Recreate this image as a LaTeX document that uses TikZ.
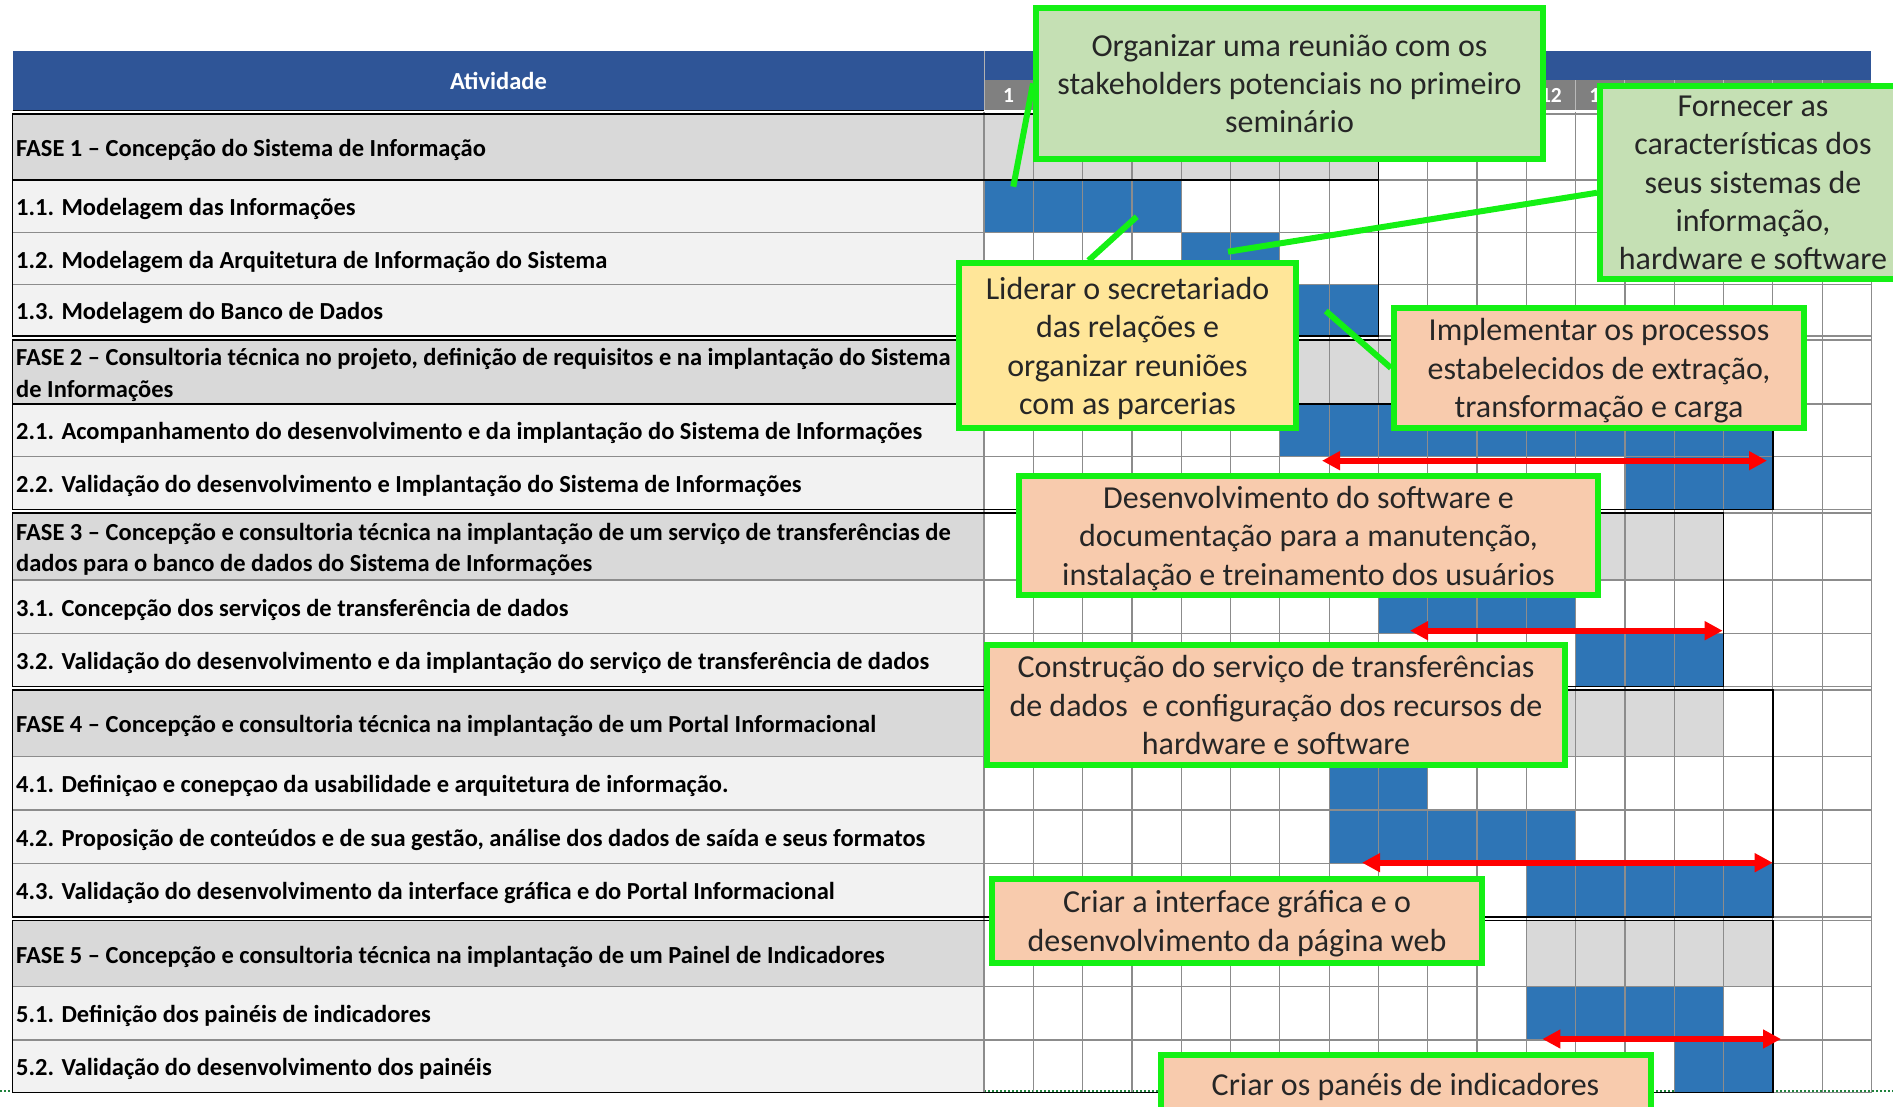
\documentclass[tikz,border=0pt]{standalone}
\usepackage{fontspec}
\setmainfont{Carlito}
\usepackage{tikz}
\usetikzlibrary{arrows.meta}

\definecolor{headblue}{RGB}{47,85,151}
\definecolor{monthgray}{RGB}{128,128,128}
\definecolor{fasegray}{RGB}{217,217,217}
\definecolor{taskgray}{RGB}{242,242,242}
\definecolor{barblue}{RGB}{46,117,182}
\definecolor{gridgray}{RGB}{140,140,140}
\definecolor{limegreen}{RGB}{20,240,20}
\definecolor{notegreen}{RGB}{197,224,180}
\definecolor{noteyellow}{RGB}{255,230,153}
\definecolor{notepeach}{RGB}{248,203,173}
\definecolor{pagegreen}{RGB}{30,130,60}

\newcommand{\colx}[1]{984+(#1)*49.3}
\newcommand{\cells}[5]{\fill[#5] ({\colx{#3-1}},#1) rectangle ({\colx{#4}},#2);}

\tikzset{
  activity/.style={anchor=west, align=left, inner sep=0pt, yshift=-3pt, font=\fontsize{24.5}{31.5}\selectfont\bfseries},
  monthlabel/.style={text=white, inner sep=0pt, font=\fontsize{21.5}{24}\selectfont\bfseries},
  note/.style={draw=limegreen, line width=6pt, align=center, inner sep=2pt, text=black!85,
    text depth=0pt, font=\fontsize{32}{38.4}\selectfont},
  pointer/.style={draw=limegreen, line width=6pt},
  spanarrow/.style={<->, draw=red, line width=6pt},
  gridline/.style={draw=gridgray, line width=1.2pt},
  blockline/.style={draw=black, line width=1.5pt},
}

\begin{document}
\begin{tikzpicture}[x=1pt, y=-1pt, >={Triangle[length=18pt,width=18pt]}]
    \useasboundingbox (0,0) rectangle (1893,1107);
    % header
    \fill[headblue] (12.7,51.5) rectangle ({\colx{18}},110);
    \fill[monthgray] ({\colx{0}},80.5) rectangle ({\colx{18}},110);
    \foreach \m in {1,...,17}
    \draw[gray!55, line width=1pt] ({\colx{\m}},80.5) -- ({\colx{\m}},110);
    \draw[gray!60, line width=1pt] ({\colx{0}},51.5) -- ({\colx{0}},110);
    \foreach \m in {1,...,18}
    \node[monthlabel] (m\m) at ({\colx{\m-0.5}},95.5) {\m};
    \node[text=white, font=\fontsize{24.5}{30}\selectfont\bfseries] (ativ) at (498.5,81) {Atividade};
    \draw[pagegreen, line width=2pt, dotted] (0,1090.5) -- (1893,1090.5);
    % activity column
    \foreach \t/\b in {180/336, 404/509.5, 580/686.5, 756.7/917, 986.7/1092.7}
    \fill[taskgray] (12.7,\t) rectangle ({\colx{0}},\b);
    \foreach \t/\b in {114/180, 340/404, 513/580, 690/756.7, 920.7/986.7}
    \fill[fasegray] (12.7,\t) rectangle ({\colx{0}},\b);
    % chart cells
    \cells{114}{180}{1}{8}{fasegray}
    \cells{180}{232.7}{1}{4}{barblue}
    \cells{232.7}{284.5}{5}{6}{barblue}
    \cells{284.5}{336}{7}{8}{barblue}
    \cells{340}{404}{7}{16}{fasegray}
    \cells{404}{456.5}{7}{16}{barblue}
    \cells{456.5}{509.5}{14}{16}{barblue}
    \cells{513}{580}{9}{15}{fasegray}
    \cells{580}{633.3}{9}{12}{barblue}
    \cells{633.3}{686.5}{13}{15}{barblue}
    \cells{690}{756.7}{8}{15}{fasegray}
    \cells{756.7}{810}{8}{9}{barblue}
    \cells{810}{863.3}{8}{12}{barblue}
    \cells{863.3}{917}{12}{16}{barblue}
    \cells{920.7}{986.7}{12}{16}{fasegray}
    \cells{986.7}{1040}{12}{15}{barblue}
    \cells{1040}{1092.7}{15}{16}{barblue}
    % grid
    \foreach \k in {0,...,18}
    \draw[gridline] ({\colx{\k}},112) -- ({\colx{\k}},1092.7);
    \draw[gridline] ({\colx{0}},114) -- ({\colx{18}},114);
    \foreach \y in {180,232.7,284.5,336,340,404,456.5,509.5,513,580,633.3,686.5,690,756.7,810,863.3,917,920.7,986.7,1040,1092.7}
    \draw[gridline] (12.7,\y) -- ({\colx{18}},\y);
    \draw[blockline] (12.7,110.5) -- ({\colx{0}},110.5);
    \draw[blockline] (12.7,114) rectangle ({\colx{8}},336);
    \draw[blockline] (12.7,180) -- ({\colx{8}},180);
    \draw[blockline] (12.7,340) rectangle ({\colx{16}},509.5);
    \draw[blockline] (12.7,404) -- ({\colx{16}},404);
    \draw[blockline] (12.7,513) rectangle ({\colx{15}},686.5);
    \draw[blockline] (12.7,690) rectangle ({\colx{16}},917);
    \draw[blockline] (12.7,920.7) rectangle ({\colx{16}},1092.7);
    % activities
    \node[activity] (f1) at (16,147) {FASE 1 – Concepção do Sistema de Informação};
    \node[activity] (a11) at (16,206.4) {1.1. Modelagem das Informações};
    \node[activity] (a12) at (16,258.6) {1.2. Modelagem da Arquitetura de Informação do Sistema};
    \node[activity] (a13) at (16,310.3) {1.3. Modelagem do Banco de Dados};
    \node[activity] (f2) at (16,372) {FASE 2 – Consultoria técnica no projeto, definição de requisitos e na implantação do Sistema\\de Informações};
    \node[activity] (a21) at (16,430.3) {2.1. Acompanhamento do desenvolvimento e da implantação do Sistema de Informações};
    \node[activity] (a22) at (16,483) {2.2. Validação do desenvolvimento e Implantação do Sistema de Informações};
    \node[activity] (f3) at (16,546.5) {FASE 3 – Concepção e consultoria técnica na implantação de um serviço de transferências de\\dados para o banco de dados do Sistema de Informações};
    \node[activity] (a31) at (16,606.7) {3.1. Concepção dos serviços de transferência de dados};
    \node[activity] (a32) at (16,660) {3.2. Validação do desenvolvimento e da implantação do serviço de transferência de dados};
    \node[activity] (f4) at (16,723.3) {FASE 4 – Concepção e consultoria técnica na implantação de um Portal Informacional};
    \node[activity] (a41) at (16,783.3) {4.1. Definiçao e conepçao da usabilidade e arquitetura de informação.};
    \node[activity] (a42) at (16,836.7) {4.2. Proposição de conteúdos e de sua gestão, análise dos dados de saída e seus formatos};
    \node[activity] (a43) at (16,890.2) {4.3. Validação do desenvolvimento da interface gráfica e do Portal Informacional};
    \node[activity] (f5) at (16,953.7) {FASE 5 – Concepção e consultoria técnica na implantação de um Painel de Indicadores};
    \node[activity] (a51) at (16,1013.3) {5.1. Definição dos painéis de indicadores};
    \node[activity] (a52) at (16,1066.3) {5.2. Validação do desenvolvimento dos painéis};
    % durations
    \coordinate (s1a) at (1322,460.7);
    \coordinate (s1b) at (1767,460.7);
    \coordinate (s2a) at (1410,630.7);
    \coordinate (s2b) at (1722.7,630.7);
    \coordinate (s3a) at (1362,862.7);
    \coordinate (s3b) at (1772.7,862.7);
    \coordinate (s4a) at (1542.4,1039);
    \coordinate (s4b) at (1781,1039);
    \draw[spanarrow] (s1a) -- (s1b);
    \draw[spanarrow] (s2a) -- (s2b);
    \draw[spanarrow] (s3a) -- (s3b);
    \draw[spanarrow] (s4a) -- (s4b);
    % notes
    \coordinate (org-t) at (1013.3,186.7);
    \coordinate (forn-t) at (1228,251.7);
    \coordinate (lid-t) at (1136.7,216.7);
    \coordinate (impl-t) at (1325.8,311);
    \node[note, fill=notegreen, minimum width=507pt, minimum height=151pt] (org) at (1289.5,83.5)
      {Organizar uma reunião com os\\stakeholders potenciais no primeiro\\seminário};
    \node[note, fill=notegreen, minimum width=306pt, minimum height=193.5pt] (forn) at (1753,182.75)
      {Fornecer as\\características dos\\seus sistemas de\\informação,\\hardware e software};
    \node[note, fill=noteyellow, minimum width=337pt, minimum height=164.5pt] (lid) at (1127.5,345.75)
      {Liderar o secretariado\\das relações e\\organizar reuniões\\com as parcerias};
    \node[note, fill=notepeach, minimum width=410pt, minimum height=120pt] (impl) at (1599,368)
      {Implementar os processos\\estabelecidos de extração,\\transformação e carga};
    \draw[pointer] (org.west) -- (org-t);
    \draw[pointer] ([yshift=-10pt]forn.west) -- (forn-t);
    \draw[pointer] ([xshift=-39pt]lid.north) -- (lid-t);
    \draw[pointer] (impl.west) -- (impl-t);
    \node[note, fill=notepeach, minimum width=579pt, minimum height=119.6pt] (desenv) at (1308.5,535.5)
      {Desenvolvimento do software e\\documentação para a manutenção,\\instalação e treinamento dos usuários};
    \node[note, fill=notepeach, minimum width=578pt, minimum height=120.6pt] (constr) at (1276,705)
      {Construção do serviço de transferências\\de dados\ \ e configuração dos recursos de\\hardware e software};
    \node[note, fill=notepeach, minimum width=490pt, minimum height=84pt] (interf) at (1237,920.85)
      {Criar a interface gráfica e o\\desenvolvimento da página web};
    \node[note, fill=notepeach, minimum width=490pt, minimum height=58pt] (paineis) at (1405.5,1084)
      {Criar os panéis de indicadores};
\end{tikzpicture}
\end{document}
